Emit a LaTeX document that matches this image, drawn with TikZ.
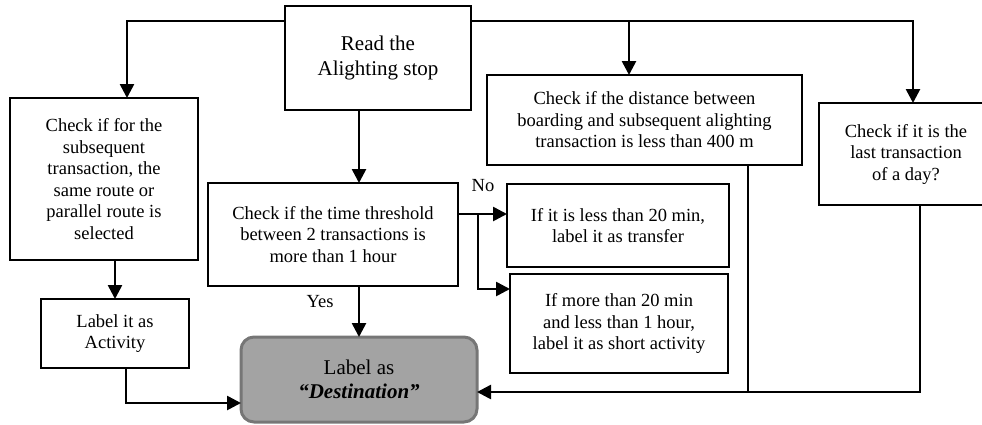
\documentclass[tikz,border=0pt]{standalone}
\usepackage{fontspec}
\setmainfont{Liberation Serif}
\usetikzlibrary{arrows.meta}
\definecolor{destfill}{RGB}{163,163,163}
\definecolor{destline}{RGB}{118,118,118}
\tikzset{
  flowbox/.style={draw=black, line width=2.6pt, inner sep=0pt, outer sep=0pt,
    align=center, font=\fontsize{18.5}{21.5}\selectfont},
  bigbox/.style={flowbox, font=\fontsize{21}{25}\selectfont},
  destbox/.style={draw=destline, fill=destfill, line width=3pt, rounded corners=13pt,
    inner sep=0pt, outer sep=0pt, align=center, font=\fontsize{21}{24.5}\selectfont},
  conn/.style={line width=2.6pt},
  arr/.style={conn, -{Triangle[length=14pt,width=14pt]}},
  tag/.style={font=\fontsize{18.5}{21.5}\selectfont, inner sep=0pt}
}
\begin{document}
\begin{tikzpicture}[x=1pt, y=-1pt]
\useasboundingbox (0,0) rectangle (982,424);
\clip (0,0) rectangle (982,424);

% boxes
\node[bigbox, minimum width=186pt, minimum height=104pt] (read) at (378,58)
  {Read the\\Alighting stop};
\node[flowbox, minimum width=188pt, minimum height=162pt] (route) at (104,179)
  {Check if for the\\subsequent\\transaction, the\\same route or\\parallel route is\\selected};
\node[flowbox, minimum width=250pt, minimum height=103pt] (time) at (333,234.5)
  {Check if the time threshold\\between 2 transactions is\\more than 1 hour};
\node[flowbox, minimum width=315pt, minimum height=90pt] (dist) at (644.5,120)
  {Check if the distance between\\boarding and subsequent alighting\\transaction is less than 400 m};
\node[flowbox, minimum width=174pt, minimum height=102pt] (last) at (906,154)
  {Check if it is the\\last transaction\\of a day?};
\node[flowbox, minimum width=222pt, minimum height=83pt] (transfer) at (618,225.5)
  {If it is less than 20 min,\\label it as transfer};
\node[flowbox, minimum width=218pt, minimum height=99pt] (short) at (619,323.5)
  {If more than 20 min\\and less than 1 hour,\\label it as short activity};
\node[flowbox, minimum width=148pt, minimum height=69pt] (activity) at (115,333.5)
  {Label it as\\Activity};
\node[destbox, minimum width=236pt, minimum height=85pt] (dest) at (359,379.5)
  {Label as\\\textbf{\textit{“Destination”}}};

% labels
\node[tag] (no) at (483,186) {No};
\node[tag] (yes) at (320,302) {Yes};

% distribution line from the alighting stop
\draw[arr] ([yshift=-15pt]read.north west) -| ([xshift=23pt]route.north);
\draw[arr] ([yshift=-15pt]read.north east) -| ([xshift=7pt]last.north);
\coordinate (bus) at (629,21);
\draw[arr] (bus) -- (bus |- dist.north);

% main vertical chain
\coordinate (mid) at (359,0);
\draw[arr] (read.south -| mid) -- (time.north -| mid);
\draw[arr] (time.south -| mid) -- (dest.north -| mid);

% left branch
\draw[arr] (route.south -| activity.north) -- (activity.north);
\draw[arr] ([xshift=11pt]activity.south) |- ([yshift=-23.5pt]dest.west);

% "No" branch
\coordinate (nout) at ([yshift=20.5pt]time.east);
\draw[arr] (nout) -- (nout -| transfer.west);
\coordinate (split) at (478,214);
\draw[arr] (split) |- ([yshift=34.5pt]short.west);

% return lines on the right
\coordinate (ret) at ([yshift=-12.5pt]dest.east);
\draw[arr] ([xshift=14pt]last.south) |- (ret);
\draw[conn] ([xshift=103.5pt]dist.south) -- ([xshift=103.5pt]dist.south |- ret);
\end{tikzpicture}
\end{document}
